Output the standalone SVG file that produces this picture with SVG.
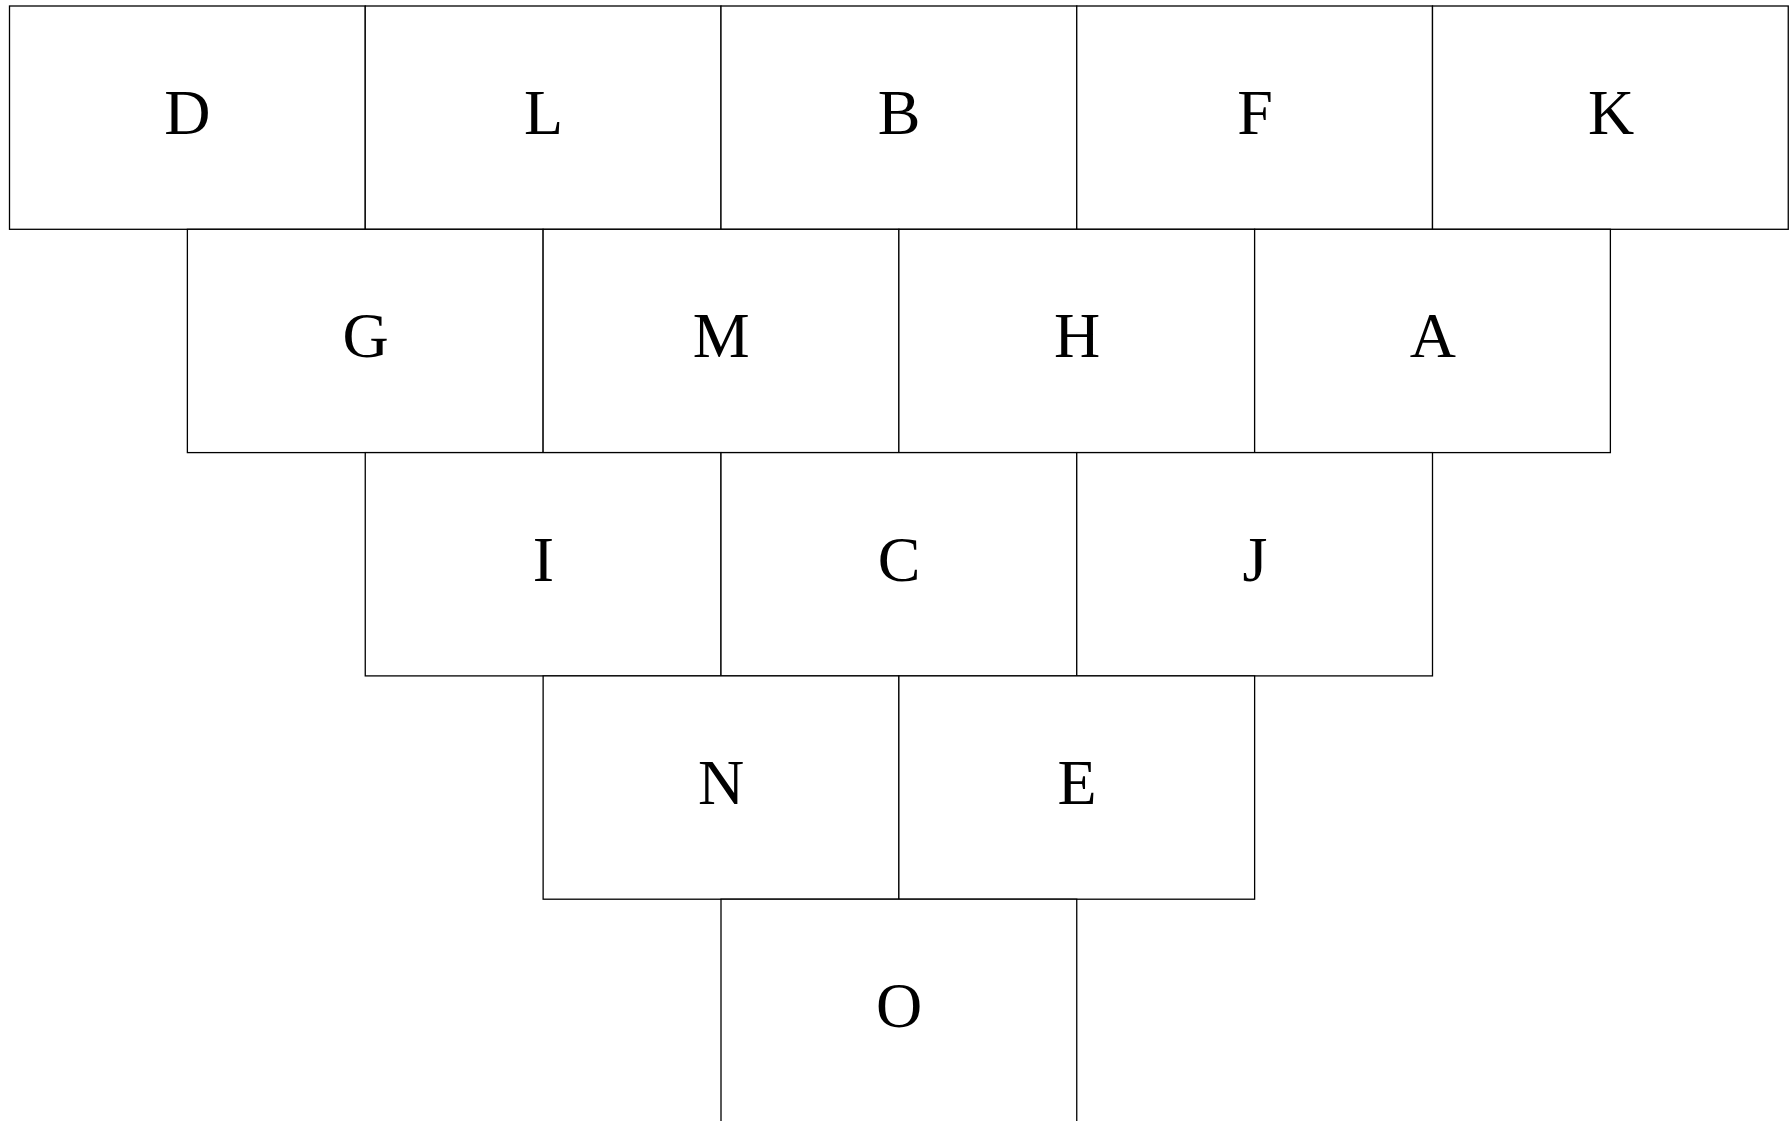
<svg xmlns="http://www.w3.org/2000/svg" width="1789" height="1121" viewBox="0 0 1789 1121">
<style>
rect{fill:#fff;stroke:#000;stroke-width:1.3}
text{font-family:"Liberation Serif","Times New Roman",serif;font-size:64px;text-anchor:middle;fill:#000}
</style>
<rect x="0" y="0" width="1789" height="1121" style="fill:#fff;stroke:none"/>
<g id="connectors"></g>
<g id="D"><rect x="9.5" y="6" width="355.75" height="223.3"/><text x="187.4" y="134">D</text></g>
<g id="L"><rect x="365.25" y="6" width="355.75" height="223.3"/><text x="543.6" y="134">L</text></g>
<g id="B"><rect x="721" y="6" width="355.75" height="223.3"/><text x="899.2" y="134">B</text></g>
<g id="F"><rect x="1076.75" y="6" width="355.75" height="223.3"/><text x="1255" y="134">F</text></g>
<g id="K"><rect x="1432.5" y="6" width="355.75" height="223.3"/><text x="1611" y="134">K</text></g>
<g id="G"><rect x="187.375" y="229.3" width="355.75" height="223.3"/><text x="365.5" y="357.3">G</text></g>
<g id="M"><rect x="543.125" y="229.3" width="355.75" height="223.3"/><text x="721.2" y="357.3">M</text></g>
<g id="H"><rect x="898.875" y="229.3" width="355.75" height="223.3"/><text x="1077" y="357.3">H</text></g>
<g id="A"><rect x="1254.625" y="229.3" width="355.75" height="223.3"/><text x="1432.8" y="357.3">A</text></g>
<g id="I"><rect x="365.25" y="452.6" width="355.75" height="223.3"/><text x="543.4" y="580.6">I</text></g>
<g id="C"><rect x="721" y="452.6" width="355.75" height="223.3"/><text x="899.2" y="580.6">C</text></g>
<g id="J"><rect x="1076.75" y="452.6" width="355.75" height="223.3"/><text x="1255" y="580.6">J</text></g>
<g id="N"><rect x="543.125" y="675.9" width="355.75" height="223.3"/><text x="721.2" y="803.9">N</text></g>
<g id="E"><rect x="898.875" y="675.9" width="355.75" height="223.3"/><text x="1077" y="803.9">E</text></g>
<g id="O"><rect x="721" y="899.2" width="355.75" height="223.3"/><text x="899.2" y="1027.2">O</text></g>
</svg>
